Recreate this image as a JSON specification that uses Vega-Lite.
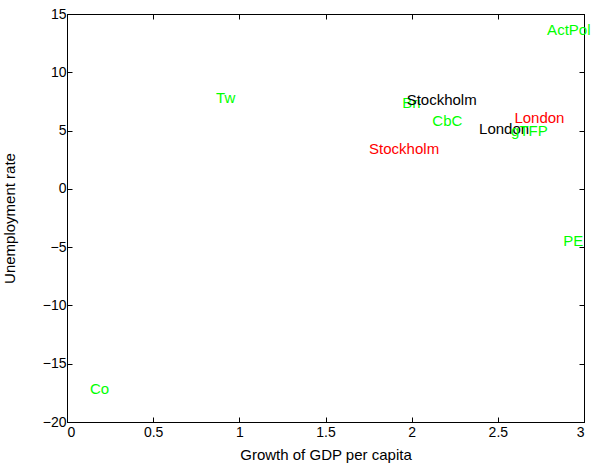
{
  "$schema": "https://vega.github.io/schema/vega-lite/v6.json",
  "autosize": "none",
  "width": 517,
  "height": 408,
  "padding": {"left": 67, "top": 14, "right": 7, "bottom": 47},
  "background": "white",
  "config": {
    "font": "Liberation Sans",
    "view": {"stroke": "black", "strokeWidth": 1},
    "axis": {
      "domainColor": "black",
      "tickColor": "black",
      "labelColor": "black",
      "titleColor": "black",
      "labelFont": "Liberation Sans",
      "titleFont": "Liberation Sans",
      "labelFontSize": 14,
      "titleFontSize": 15,
      "titleFontWeight": "normal",
      "grid": false,
      "tickSize": -5,
      "format": "~g"
    }
  },
  "data": {
    "values": [
      {"label": "Tw", "growth": 0.865, "unemp": 7.8, "group": "green"},
      {"label": "Co", "growth": 0.133, "unemp": -17.2, "group": "green"},
      {"label": "ActPol", "growth": 2.786, "unemp": 13.63, "group": "green"},
      {"label": "PE", "growth": 2.879, "unemp": -4.45, "group": "green"},
      {"label": "Bri", "growth": 1.946, "unemp": 7.36, "group": "green"},
      {"label": "Stockholm", "growth": 1.971, "unemp": 7.62, "group": "black"},
      {"label": "CbC", "growth": 2.12, "unemp": 5.85, "group": "green"},
      {"label": "London", "growth": 2.391, "unemp": 5.13, "group": "black"},
      {"label": "gTFP", "growth": 2.577, "unemp": 4.99, "group": "green"},
      {"label": "London", "growth": 2.596, "unemp": 6.05, "group": "red"},
      {"label": "Stockholm", "growth": 1.753, "unemp": 3.42, "group": "red"}
    ]
  },
  "resolve": {"axis": {"x": "independent", "y": "independent"}},
  "layer": [
    {
      "mark": {"type": "text", "opacity": 0, "clip": false},
      "encoding": {
        "x": {"field": "growth", "type": "quantitative", "scale": {"domain": [0, 3], "nice": false, "zero": false},
              "axis": {"orient": "top", "labels": false, "title": null, "values": [0, 0.5, 1, 1.5, 2, 2.5, 3]}},
        "y": {"field": "unemp", "type": "quantitative", "scale": {"domain": [-20, 15], "nice": false, "zero": false},
              "axis": {"orient": "right", "labels": false, "title": null, "values": [-20, -15, -10, -5, 0, 5, 10, 15]}},
        "text": {"field": "label"}
      }
    },
    {
      "mark": {"type": "text", "align": "left", "baseline": "middle", "fontSize": 15, "font": "Liberation Sans", "clip": false},
      "encoding": {
        "x": {"field": "growth", "type": "quantitative",
              "axis": {"orient": "bottom", "title": "Growth of GDP per capita", "values": [0, 0.5, 1, 1.5, 2, 2.5, 3],
                       "labelPadding": 8, "titleBaseline": "alphabetic", "titleY": 37}},
        "y": {"field": "unemp", "type": "quantitative",
              "axis": {"orient": "left", "title": "Unemployment rate", "values": [-20, -15, -10, -5, 0, 5, 10, 15],
                       "labelPadding": 6, "titleBaseline": "alphabetic", "titleX": -53}},
        "text": {"field": "label"},
        "color": {"field": "group", "type": "nominal", "scale": {"domain": ["green", "black", "red"], "range": ["#00ff00", "#000000", "#ff0000"]}, "legend": null}
      }
    }
  ]
}
